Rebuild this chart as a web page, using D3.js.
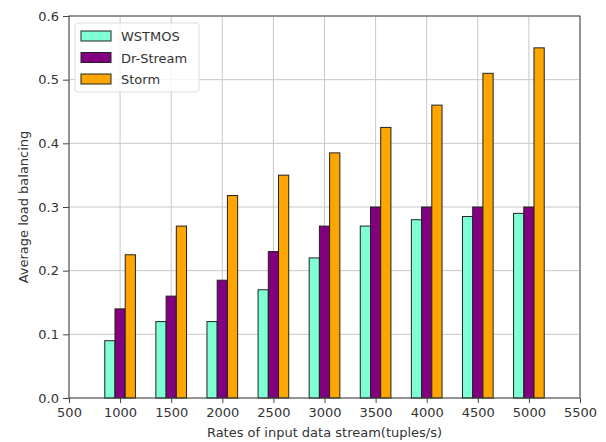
<!DOCTYPE html>
<html><head><meta charset="utf-8">
<script src="https://cdn.jsdelivr.net/npm/d3@7"></script>
<style>body{margin:0;background:#fff}svg{display:block;font-family:"DejaVu Sans",sans-serif}</style>
</head><body>
<svg id="c" width="606" height="442"></svg>
<script>
const rates = [1000,1500,2000,2500,3000,3500,4000,4500,5000];
const wstmos = [0.09,0.12,0.12,0.17,0.22,0.27,0.28,0.285,0.29];
const drStream = [0.14,0.16,0.185,0.23,0.27,0.30,0.30,0.30,0.30];
const storm = [0.225,0.27,0.318,0.35,0.385,0.425,0.46,0.51,0.55];
const seriesNames = ["WSTMOS","Dr-Stream","Storm"];
const seriesColors = ["#7fffd4","#800080","#ffa500"];
const xTicks = [500,1000,1500,2000,2500,3000,3500,4000,4500,5000,5500];
const yTicks = [0,0.1,0.2,0.3,0.4,0.5,0.6];
const offsets = [-100,0,100];
const barW = 100;

const svg = d3.select("#c");
const L=69,R=580,T=16,B=398;
const x = d3.scaleLinear().domain([500,5500]).range([L,R]);
const y = d3.scaleLinear().domain([0,0.6]).range([B,T]);

// grid
const g = svg.append("g");
g.selectAll(".gx").data(xTicks).join("line").attr("x1",d=>x(d)).attr("x2",d=>x(d)).attr("y1",T).attr("y2",B).attr("stroke","#c8c8c8").attr("stroke-width",1);
g.selectAll(".gy").data(yTicks).join("line").attr("y1",d=>y(d)).attr("y2",d=>y(d)).attr("x1",L).attr("x2",R).attr("stroke","#c8c8c8").attr("stroke-width",1);

// bars
const all = [wstmos,drStream,storm];
all.forEach((vals,si)=>{
  svg.append("g").selectAll("rect").data(vals).join("rect")
    .attr("x",(d,i)=>x(rates[i]+offsets[si]-barW/2))
    .attr("width",(d,i)=>x(rates[i]+offsets[si]+barW/2)-x(rates[i]+offsets[si]-barW/2))
    .attr("y",d=>y(d)).attr("height",d=>B-y(d))
    .attr("fill",seriesColors[si]).attr("stroke","#222").attr("stroke-width",1);
});

// axes
const xa = svg.append("g").attr("transform",`translate(0,${B})`).call(d3.axisBottom(x).tickValues(xTicks).tickFormat(d3.format("d")).tickSize(5).tickPadding(5));
const ya = svg.append("g").attr("transform",`translate(${L},0)`).call(d3.axisLeft(y).tickValues(yTicks).tickFormat(d3.format(".1f")).tickSize(6).tickPadding(4));
[xa,ya].forEach(a=>{a.selectAll("text").attr("font-size",13).attr("fill","#333").attr("font-family","DejaVu Sans");a.selectAll("line").attr("stroke","#444");a.select(".domain").attr("stroke","none");});
svg.append("rect").attr("x",L).attr("y",T).attr("width",R-L).attr("height",B-T).attr("fill","none").attr("stroke","#444").attr("stroke-width",1);

svg.append("text").attr("x",(L+R)/2).attr("y",437).attr("text-anchor","middle").attr("font-size",13).attr("fill","#333").text("Rates of input data stream(tuples/s)");
svg.append("text").attr("transform",`translate(28,${(T+B)/2}) rotate(-90)`).attr("text-anchor","middle").attr("font-size",13).attr("fill","#333").text("Average load balancing");

// legend
const lg = svg.append("g");
lg.append("rect").attr("x",75).attr("y",23).attr("width",124).attr("height",69).attr("rx",3).attr("fill","#fff").attr("fill-opacity",0.8).attr("stroke","#ddd");
seriesNames.forEach((n,i)=>{
  const yy = 36 + i*21.5;
  lg.append("rect").attr("x",81).attr("y",yy-5).attr("width",30).attr("height",10).attr("fill",seriesColors[i]).attr("stroke","#222");
  lg.append("text").attr("x",121).attr("y",yy+5).attr("font-size",13).attr("fill","#333").text(n);
});
</script>
</body></html>
